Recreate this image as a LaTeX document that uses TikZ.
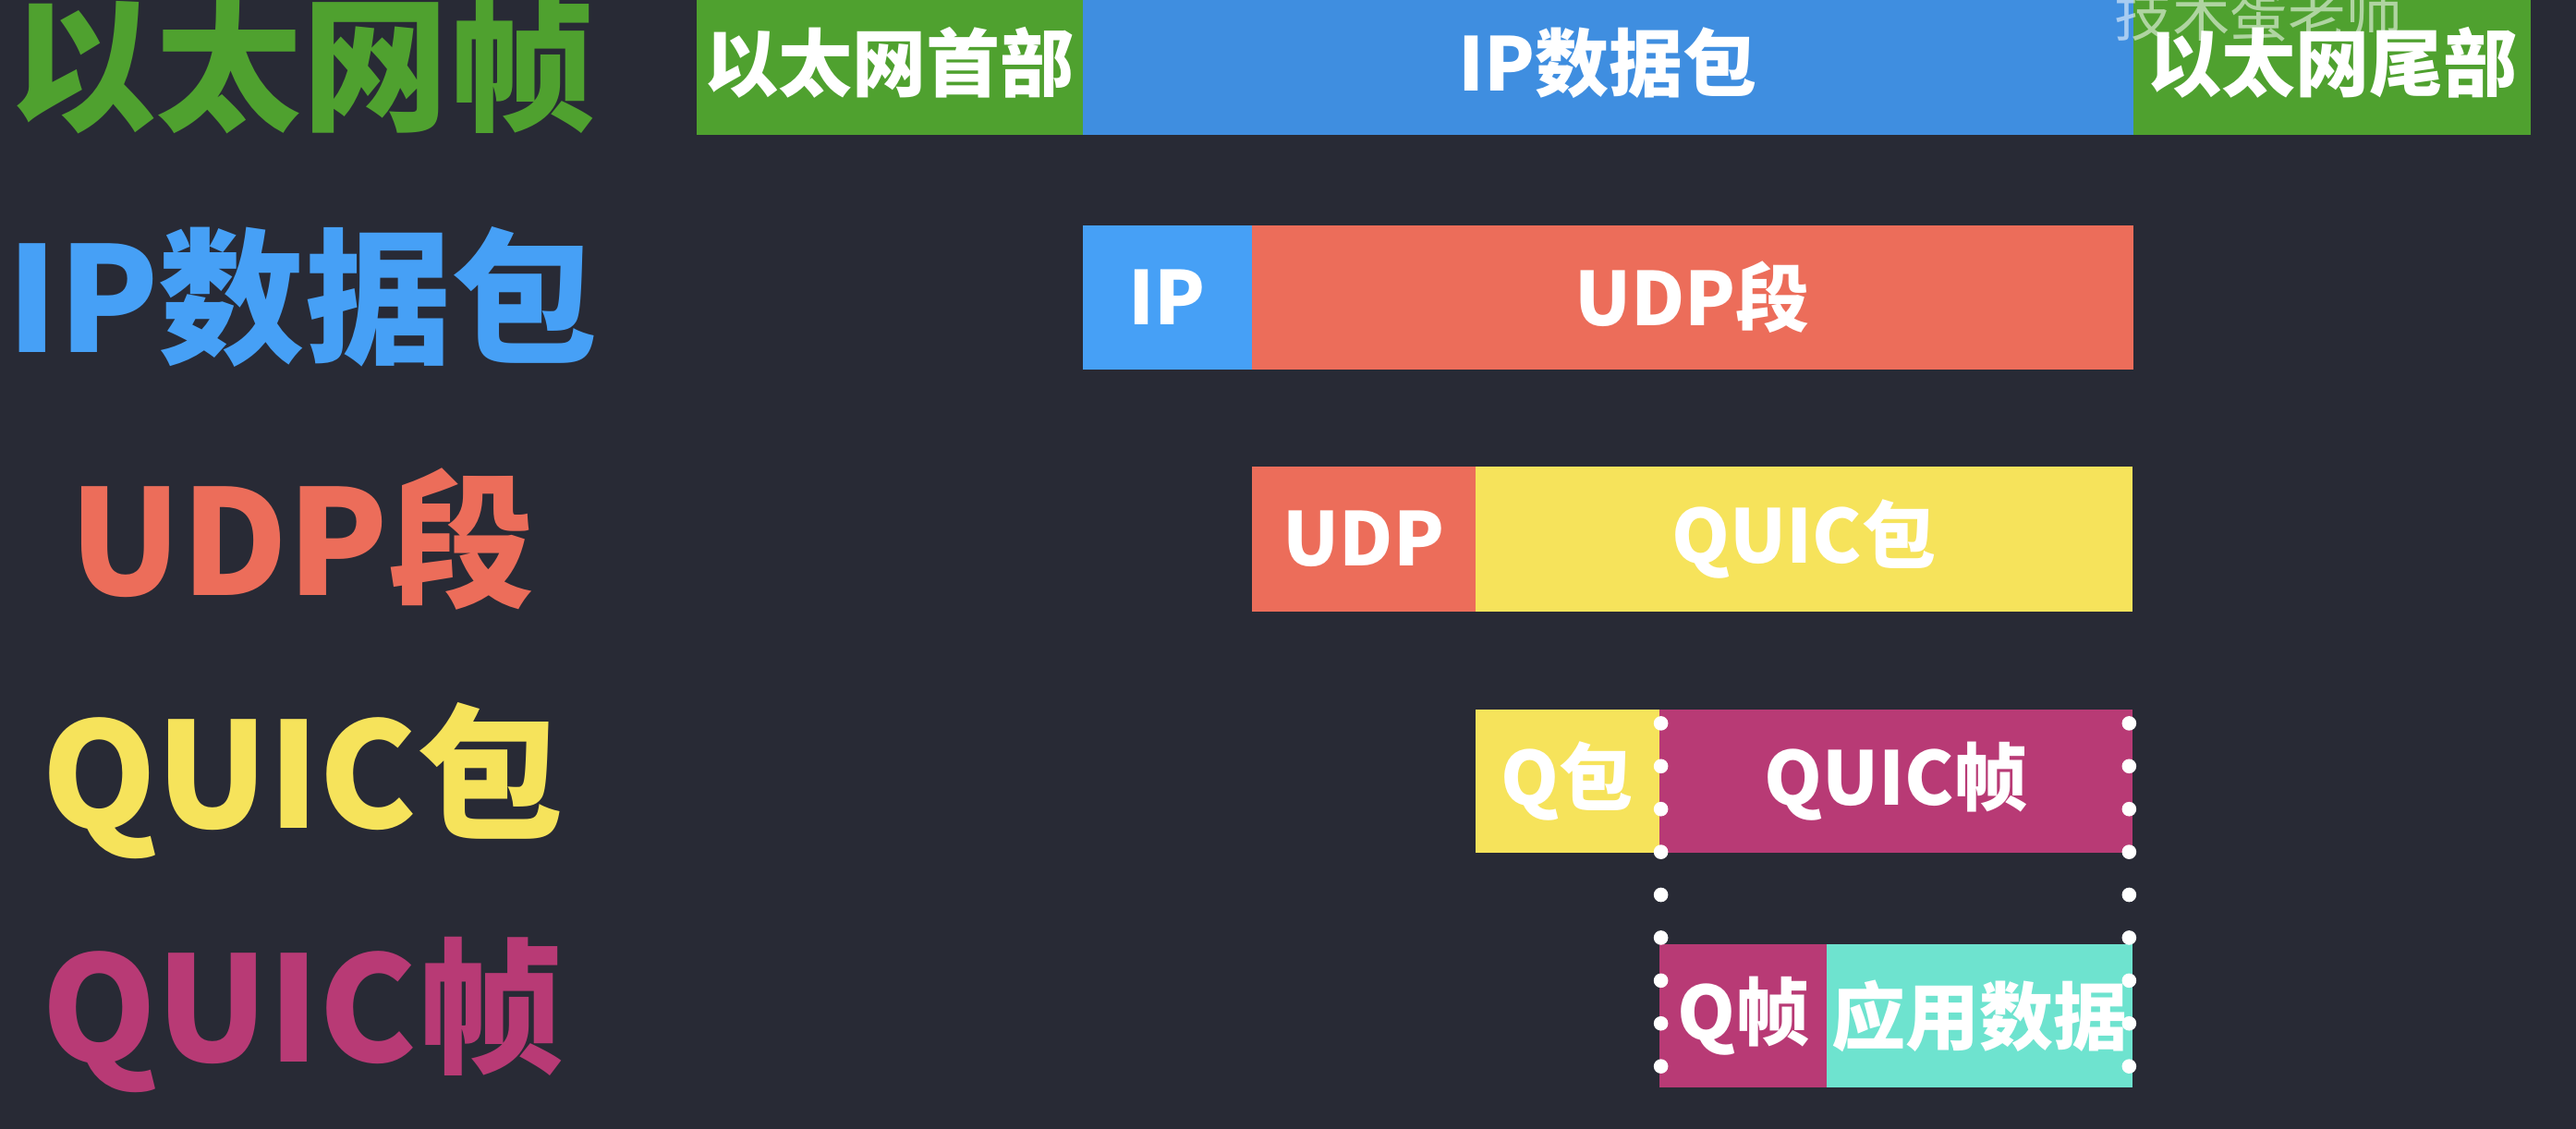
\documentclass[tikz,border=0pt]{standalone}
\usepackage{fontspec}
\setmainfont{Noto Sans CJK SC}
\usetikzlibrary{positioning}
\definecolor{bgdark}{HTML}{282A35}
\definecolor{ethgreen}{HTML}{4FA12F}
\definecolor{ipblue}{HTML}{46A0F6}
\definecolor{ipbluedeep}{HTML}{3F8EE0}
\definecolor{udpred}{HTML}{EC6D5A}
\definecolor{quicyellow}{HTML}{F6E35B}
\definecolor{framemagenta}{HTML}{B83A75}
\definecolor{appteal}{HTML}{6EE3CF}
\tikzset{
  cell/.style={inner sep=0pt,outer sep=0pt,minimum height=0.88cm,text=white,font=\bfseries\fontsize{12.8}{13}\selectfont},
  layer label/.style={inner sep=0pt,font=\bfseries\fontsize{25.3}{26}\selectfont},
  boundary dot/.style={fill=white},
  watermark text/.style={text=white,opacity=0.55,font=\fontsize{10}{10}\selectfont},
}

\begin{document}
\begin{tikzpicture}[x=0.01cm,y=-0.01cm]
\useasboundingbox (0,0) rectangle (1568,687);
\fill[bgdark] (0,0) rectangle (1568,687);
% layer names
\node[layer label,text=ethgreen] (lblEth) at (184,39) {以太网帧};
\node[layer label,text=ipblue] (lblIp) at (184,181) {IP数据包};
\node[layer label,text=udpred] (lblUdp) at (184,328) {UDP段};
\node[layer label,text=quicyellow] (lblQuicPkt) at (184,475) {QUIC包};
\node[layer label,text=framemagenta] (lblQuicFrm) at (184,618) {QUIC帧};
% ethernet frame
\node[cell,fill=ethgreen,minimum width=2.35cm,anchor=north west] (ethHead) at (424,-6) {以太网首部};
\node[cell,fill=ipbluedeep,minimum width=6.39cm,right=0pt of ethHead] (ethIp) {IP数据包};
\node[cell,fill=ethgreen,minimum width=2.42cm,right=0pt of ethIp] (ethTail) {以太网尾部};
% ip packet
\node[cell,fill=ipblue,minimum width=1.03cm,anchor=north west] (ipHead) at (659,137) {IP};
\node[cell,fill=udpred,minimum width=5.36cm,right=0pt of ipHead] (ipUdp) {UDP段};
% udp segment
\node[cell,fill=udpred,minimum width=1.36cm,anchor=north west] (udpHead) at (762,284) {UDP};
\node[cell,fill=quicyellow,minimum width=4.00cm,right=0pt of udpHead] (udpQuic) {QUIC包};
% quic packet
\node[cell,fill=quicyellow,minimum width=1.12cm,minimum height=0.87cm,anchor=north west] (quicHead) at (898,432) {Q包};
\node[cell,fill=framemagenta,minimum width=2.88cm,minimum height=0.87cm,right=0pt of quicHead] (quicFrame) {QUIC帧};
% quic frame
\node[cell,fill=framemagenta,minimum width=1.02cm,minimum height=0.87cm,anchor=north west] (frmHead) at (1010,575) {Q帧};
\node[cell,fill=appteal,minimum width=1.86cm,minimum height=0.87cm,right=0pt of frmHead] (frmData) {应用数据};
% dotted boundaries
\foreach \k in {0,...,8} {
  \fill[boundary dot] (1011,440.3+26.1*\k) circle[radius=1.25pt];
  \fill[boundary dot] (1296,440.3+26.1*\k) circle[radius=1.25pt];
}
\node[watermark text] (watermark) at (1375,9) {技术蛋老师};
\end{tikzpicture}
\end{document}
